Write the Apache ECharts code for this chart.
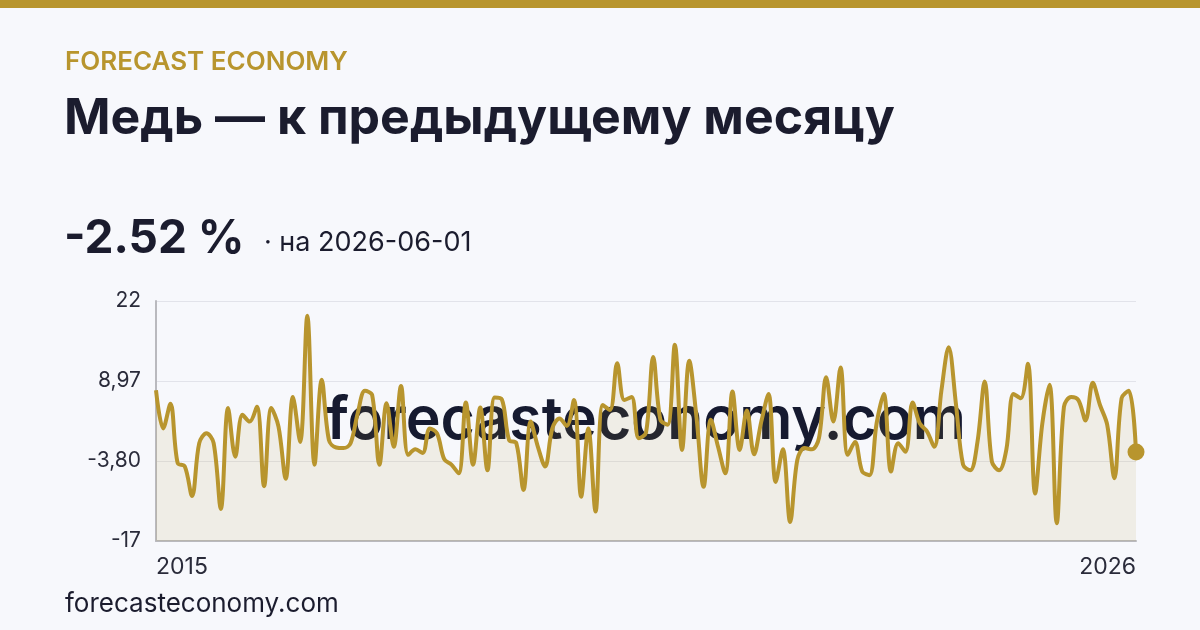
<!DOCTYPE html>
<html>
<head>
<meta charset="utf-8">
<script src="https://cdn.jsdelivr.net/npm/echarts@6/dist/echarts.min.js"></script>
<style>
html,body{margin:0;padding:0;background:#f7f8fc;}
#c{width:1200px;height:630px;}
</style>
</head>
<body>
<div id="c"></div>
<script>
// Month-over-month change of copper price, %, Feb 2015 .. Jun 2026
const startYear = 2015;
const startMonth = 2;
const values = [
  7.5, 1.3, 5.3, -4.3, -4.9, -9.7, -1.1, 0.5, -1.1, -11.8,
  4.6, -3.3, 3.5, 2.4, 4.8, -8.1, 4.6, 1.6, -6.9, 6.4,
  -0.9, 19.6, -4.6, 9.2, -0.6, -1.8, -1.9, -1.1, 3.8, 7.4,
  6.7, -4.6, 5.4, -1.7, 8.2, -3.0, -2.1, -2.7, 1.3, 0.5,
  -3.7, -4.6, -6.0, 5.5, -4.6, 4.7, -5.5, 6.3, 6.0, -0.6,
  -1.1, -8.7, 2.4, -1.7, -4.9, 1.3, 2.9, 1.7, 5.9, -9.8,
  1.3, -12.2, 5.1, 4.3, 11.9, 5.9, 6.4, -0.3, 0.6, 12.9,
  2.7, 1.9, 14.9, -2.2, 12.3, 3.2, -8.2, 2.7, -1.7, -6.0,
  7.3, -2.2, 4.2, -2.9, 2.4, 6.9, -7.4, -2.1, -13.9, -3.8,
  -1.9, -2.1, -0.3, 9.6, 2.4, 11.2, -3.0, -0.9, -5.7, -6.3,
  2.1, 6.9, -5.7, -1.1, -2.5, 5.5, 2.1, 0.8, -1.7, 7.5,
  14.5, 5.4, -4.6, -5.5, -0.9, 8.9, -4.1, -5.5, -2.2, 6.9,
  6.2, 11.8, -9.3, 2.1, 8.4, -14.1, 4.8, 6.4, 5.9, 2.6,
  8.7, 5.1, 1.9, -6.8, 6.2, 7.4, -2.52
];
const yTickLabels = ['-17', '-3,80', '8,97', '22'];
const titleText = 'Медь — к предыдущему месяцу';
const brandText = 'FORECAST ECONOMY';
const lastValueText = '-2.52 %';
const lastDateText = '· на 2026-06-01';
const siteText = 'forecasteconomy.com';

const categories = [];
{
  let y = startYear, m = startMonth;
  for (let i = 0; i < values.length; i++) {
    categories.push(y + '-' + String(m).padStart(2, '0'));
    m++; if (m > 12) { m = 1; y++; }
  }
}
const lastIdx = values.length - 1;

const gold = '#b8952e';
const ink = '#1b1c2e';
const FONT = 'Inter, "Noto Sans", sans-serif';

const chart = echarts.init(document.getElementById('c'), null, {renderer: 'canvas'});
chart.setOption({
  backgroundColor: '#f7f8fc',
  animation: false,
  textStyle: {fontFamily: FONT},
  grid: {left: 156, right: 64, top: 301, bottom: 89, containLabel: false},
  xAxis: {
    type: 'category',
    data: categories,
    boundaryGap: false,
    axisLine: {show: true, onZero: false, lineStyle: {color: '#b9b9be', width: 2}},
    axisTick: {show: false},
    splitLine: {show: false},
    axisLabel: {
      interval: (idx) => idx === 0 || idx === lastIdx,
      formatter: (v) => v.slice(0, 4),
      color: '#2a2b3a',
      fontSize: 23,
      fontFamily: FONT,
      margin: 15,
      alignMinLabel: 'left',
      alignMaxLabel: 'right'
    }
  },
  yAxis: {
    type: 'value',
    min: -17,
    max: 22,
    interval: 13,
    axisLine: {show: true, lineStyle: {color: '#b9b9be', width: 2}},
    axisTick: {show: false},
    splitLine: {show: true, lineStyle: {color: '#e2e3ea', width: 1}},
    axisLabel: {
      formatter: (v) => {
        const i = Math.round((v + 17) / 13);
        return yTickLabels[i] !== undefined ? yTickLabels[i] : '';
      },
      color: '#2a2b3a',
      fontSize: 21,
      fontFamily: FONT,
      margin: 15
    }
  },
  graphic: [
    {type: 'rect', left: 0, top: 0, z: 10, shape: {width: 1200, height: 8}, style: {fill: gold}},
    {type: 'text', left: 65, top: 49, z: 10, style: {text: brandText, fill: gold, font: '600 26px ' + FONT}},
    {type: 'text', left: 64, top: 94, z: 10, style: {text: titleText, fill: ink, font: '700 50px ' + FONT}},
    {type: 'text', left: 64, top: 216, z: 10, style: {text: lastValueText, fill: ink, font: '700 46px ' + FONT}},
    {type: 'text', left: 264, top: 229, z: 10, style: {text: lastDateText, fill: ink, font: '400 27px ' + FONT}},
    {type: 'text', left: 65, top: 591, z: 10, style: {text: siteText, fill: ink, font: '400 26px ' + FONT}},
    {type: 'text', x: 646, y: 421, z: 0, zlevel: 0, style: {text: siteText, fill: '#161a30', font: '600 59px ' + FONT, textAlign: 'center', textVerticalAlign: 'middle'}}
  ],
  series: [{
    type: 'line',
    data: values,
    smooth: 0.35,
    z: 3,
    showSymbol: true,
    showAllSymbol: true,
    symbol: 'circle',
    symbolSize: (v, p) => (p.dataIndex === lastIdx ? 17 : 0),
    itemStyle: {color: gold},
    lineStyle: {color: gold, width: 4},
    areaStyle: {color: 'rgba(184,149,46,0.15)', origin: 'start'},
    emphasis: {disabled: true}
  }]
});
</script>
</body>
</html>
